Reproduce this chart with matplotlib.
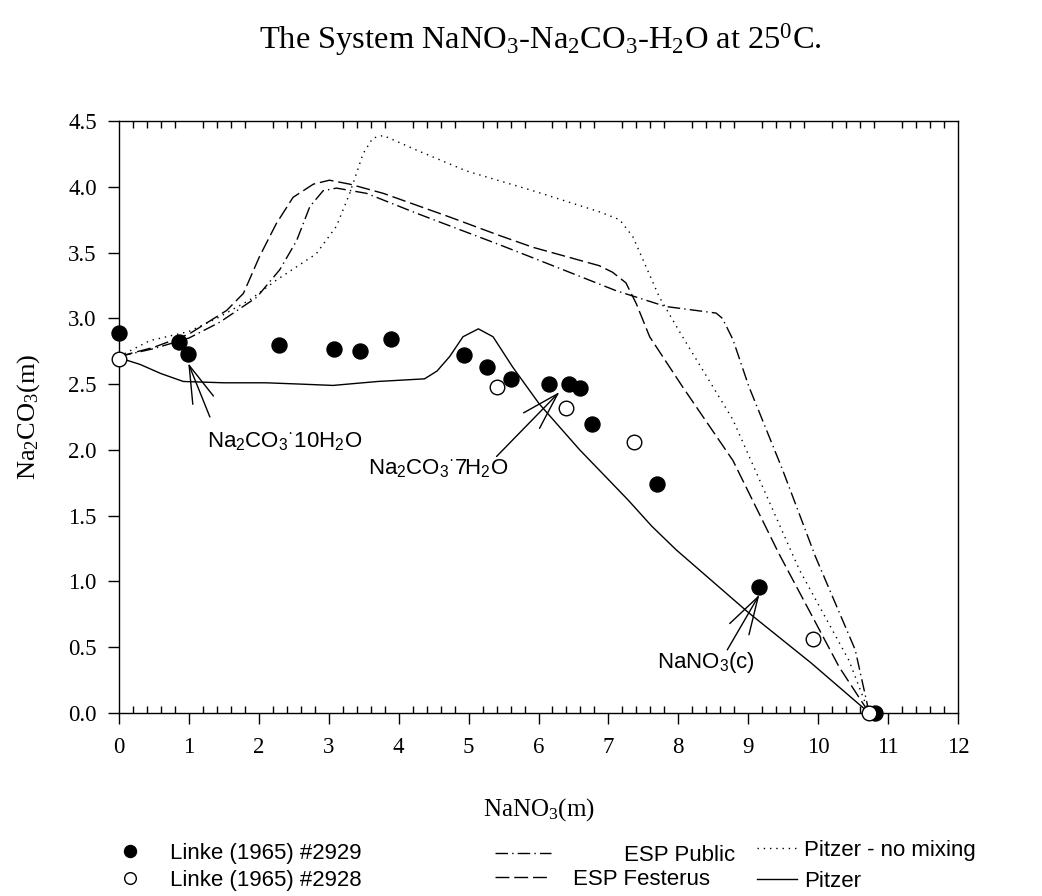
import matplotlib.pyplot as plt
from matplotlib.ticker import MultipleLocator

plt.rcParams['mathtext.default'] = 'regular'

# Linke (1965) solubility measurements, NaNO3 (m) vs Na2CO3 (m)
linke2929_x = [0, 0.86, 0.99, 2.29, 3.07, 3.45, 3.89, 4.93, 5.26, 5.61, 6.15, 6.44, 6.60, 6.76, 7.69, 9.16, 10.82]
linke2929_y = [2.89, 2.82, 2.73, 2.80, 2.77, 2.75, 2.84, 2.72, 2.63, 2.54, 2.50, 2.50, 2.47, 2.20, 1.74, 0.96, 0.0]
linke2928_x = [0, 5.40, 6.40, 7.37, 9.92, 10.73]
linke2928_y = [2.69, 2.48, 2.32, 2.06, 0.56, 0.0]

# model curves
public_x = [0, 0.5, 1.0, 1.44, 1.97, 2.30, 2.54, 2.73, 2.92, 3.11, 3.54, 4.25, 5.44, 5.92, 7.11, 7.82, 8.54, 8.63, 8.78, 9.01, 9.49, 9.96, 10.53, 10.73]
public_y = [2.71, 2.77, 2.85, 2.97, 3.16, 3.37, 3.59, 3.85, 3.97, 3.99, 3.95, 3.80, 3.56, 3.46, 3.21, 3.09, 3.04, 3.00, 2.84, 2.48, 1.85, 1.19, 0.48, 0.0]

festerus_x = [0, 0.5, 1.0, 1.54, 1.78, 2.01, 2.25, 2.49, 2.78, 3.01, 3.30, 3.78, 4.73, 5.44, 5.92, 6.87, 7.06, 7.25, 7.40, 7.59, 8.06, 8.78, 9.44, 10.30, 10.73]
festerus_y = [2.71, 2.78, 2.88, 3.06, 3.19, 3.47, 3.72, 3.92, 4.02, 4.05, 4.02, 3.95, 3.77, 3.63, 3.54, 3.40, 3.35, 3.27, 3.11, 2.86, 2.48, 1.92, 1.21, 0.35, 0.0]

nomix_x = [0, 0.44, 1.0, 1.40, 1.87, 2.25, 2.82, 3.11, 3.30, 3.49, 3.63, 3.78, 4.25, 4.97, 5.92, 6.87, 7.16, 7.35, 7.54, 7.73, 8.06, 8.78, 9.73, 10.44, 10.73]
nomix_y = [2.71, 2.83, 2.90, 3.00, 3.14, 3.29, 3.49, 3.70, 3.95, 4.25, 4.37, 4.39, 4.28, 4.12, 3.97, 3.81, 3.75, 3.62, 3.39, 3.16, 2.86, 2.23, 1.09, 0.40, 0.0]

pitzer_x = [0, 0.3, 0.6, 0.92, 1.5, 2.1, 2.6, 3.06, 3.7, 4.37, 4.55, 4.73, 4.92, 5.14, 5.35, 5.63, 6.01, 6.59, 7.28, 7.62, 7.97, 9.01, 9.9, 10.73]
pitzer_y = [2.70, 2.65, 2.58, 2.52, 2.51, 2.51, 2.50, 2.49, 2.52, 2.54, 2.60, 2.71, 2.86, 2.92, 2.86, 2.63, 2.35, 2.00, 1.62, 1.42, 1.24, 0.76, 0.38, 0.0]

serif = 'Liberation Serif'
sans = 'Liberation Sans'

fig = plt.figure(figsize=(10.42, 8.96), dpi=100)
ax = fig.add_axes([119/1042, 1 - 713/896, (958 - 119)/1042, (713 - 121)/896])

lw = 1.0
l_pub, = ax.plot(public_x, public_y, color='black', lw=lw, linestyle=(0, (9, 3, 1, 3)))
l_fest, = ax.plot(festerus_x, festerus_y, color='black', lw=lw, linestyle=(0, (10, 3.5)))
l_nomix, = ax.plot(nomix_x, nomix_y, color='black', lw=lw, linestyle=(0, (1, 3.5)))
l_pitz, = ax.plot(pitzer_x, pitzer_y, color='black', lw=lw, linestyle='-')

# crystallising phase labels
arrow = dict(arrowstyle='->,head_length=2.7,head_width=0.8', mutation_scale=10,
             lw=1.0, color='black', shrinkA=0, shrinkB=0)
ax.annotate('', xy=(0.99, 2.66), xytext=(1.30, 2.25), arrowprops=arrow, zorder=2)
ax.annotate('', xy=(6.30, 2.44), xytext=(5.40, 1.95), arrowprops=arrow, zorder=2)
ax.annotate('', xy=(9.16, 0.90), xytext=(8.70, 0.48), arrowprops=arrow, zorder=2)
ax.text(1.26, 2.02, 'Na$_2$CO$_3$$^{·}$10H$_2$O', family=sans, fontsize=16, ha='left', va='baseline')
ax.text(3.56, 1.81, 'Na$_2$CO$_3$$^{·}$7H$_2$O', family=sans, fontsize=16, ha='left', va='baseline')
ax.text(7.70, 0.34, 'NaNO$_3$(c)', family=sans, fontsize=16, ha='left', va='baseline')

m_2929, = ax.plot(linke2929_x, linke2929_y, 'o', color='black', ms=10.8, zorder=4, clip_on=False)
m_2928, = ax.plot(linke2928_x, linke2928_y, 'o', mfc='white', mec='black', mew=1.0, ms=10.5,
                  zorder=5, clip_on=False)

ax.set_xlim(0, 12)
ax.set_ylim(0, 4.5)
ax.xaxis.set_major_locator(MultipleLocator(1))
ax.xaxis.set_minor_locator(MultipleLocator(0.2))
ax.set_yticks([0, 0.5, 1.0, 1.5, 2.0, 2.5, 3.0, 3.5, 4.0, 4.5])
ax.set_yticklabels(['0.0', '0.5', '1.0', '1.5', '2.0', '2.5', '3.0', '3.5', '4.0', '4.5'])
ax.tick_params(axis='x', which='major', direction='out', length=8, width=1, top=False, pad=9)
ax.tick_params(axis='x', which='minor', direction='in', length=5, width=1, top=True, bottom=True)
ax.tick_params(axis='y', which='major', direction='out', length=8, width=1, right=False, pad=8)
for lab in ax.get_xticklabels() + ax.get_yticklabels():
    lab.set_family(serif)
    lab.set_fontsize(16.5)
for sp in ax.spines.values():
    sp.set_linewidth(1.0)

ax.set_xlabel('NaNO$_3$(m)', family=serif, fontsize=18)
ax.xaxis.set_label_coords(0.5, -0.14)
ax.set_ylabel('Na$_2$CO$_3$(m)', family=serif, fontsize=19)
ax.yaxis.set_label_coords(-0.092, 0.5)

fig.text(540/1042, 1 - 40/896, 'The System NaNO$_3$-Na$_2$CO$_3$-H$_2$O at 25$^0$C.',
         family=serif, fontsize=23.4, ha='center', va='center')

# legend entries: (handle, label, handle left px, row top px, handle length, text pad)
leg_kw = dict(frameon=False, prop={'family': sans, 'size': 16}, borderpad=0, borderaxespad=0,
              loc='upper left', markerscale=0.8)
entries = [
    (m_2929, 'Linke (1965) #2929', 108, 843, 2.0, 0.8),
    (m_2928, 'Linke (1965) #2928', 108, 870, 2.0, 0.8),
    (l_pub, 'ESP Public', 495, 845, 2.5, 3.3),
    (l_fest, 'ESP Festerus', 495, 869, 2.4, 1.1),
    (l_nomix, 'Pitzer - no mixing', 757, 840, 1.8, 0.3),
    (l_pitz, 'Pitzer', 757, 871, 1.8, 0.3),
]
for h, lab, x0, y0, hl, pad in entries:
    fig.legend([h], [lab], bbox_to_anchor=(x0/1042, 1 - y0/896), handlelength=hl,
               handletextpad=pad, **leg_kw)

fig.savefig('out.png', dpi=100)
